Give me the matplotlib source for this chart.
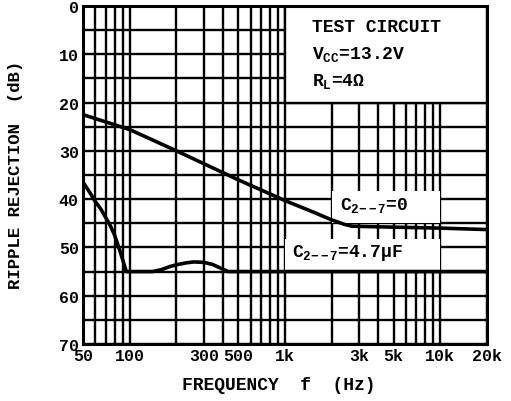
import numpy as np
import matplotlib
matplotlib.use("Agg")
import matplotlib.pyplot as plt
from matplotlib.patches import Rectangle
from matplotlib.ticker import FixedLocator, LogLocator, NullFormatter

# C2-7 = 0 curve
freq_c0 = [50, 100, 200, 500, 1000, 1500, 2000, 2400, 2700, 5000, 10000, 20000]
rr_c0 = [22.5, 25.6, 30.0, 36.0, 40.3, 42.6, 44.3, 45.2, 45.6, 45.8, 46.0, 46.3]

# C2-7 = 4.7uF curve
freq_c47 = [50, 55, 60, 65, 70, 75, 80, 85, 90, 95, 100, 140, 160, 180, 200,
            230, 260, 300, 340, 380, 430, 1000, 20000]
rr_c47 = [36.5, 38.5, 40.5, 42.0, 43.8, 45.5, 47.5, 50.0, 52.5, 55.0, 55.0,
          55.0, 54.6, 54.0, 53.6, 53.2, 53.0, 53.1, 53.5, 54.2, 55.0, 55.0, 55.0]

xtick_vals = [50, 100, 300, 500, 1000, 3000, 5000, 10000, 20000]
xtick_labels = ['50', '100', '300', '500', '1k', '3k', '5k', '10k', '20k']
ytick_vals = [0, 10, 20, 30, 40, 50, 60, 70]

FONT = 'Liberation Mono'
plt.rcParams['font.family'] = FONT
plt.rcParams['font.weight'] = 'bold'
plt.rcParams['mathtext.fontset'] = 'custom'
plt.rcParams['mathtext.rm'] = FONT + ':bold'
plt.rcParams['mathtext.it'] = FONT + ':bold'
plt.rcParams['mathtext.default'] = 'rm'

fig = plt.figure(figsize=(5.11, 4.02), dpi=100)
ax = fig.add_axes([0.1624, 0.1418, 0.7906, 0.8408])

ax.set_xscale('log')
ax.set_xlim(50, 20000)
ax.set_ylim(70, 0)

# grid: every 5 dB and every log sub-decade
ax.xaxis.set_major_locator(FixedLocator(xtick_vals))
ax.xaxis.set_minor_locator(LogLocator(base=10, subs=np.arange(1, 10)))
ax.xaxis.set_minor_formatter(NullFormatter())
ax.set_xticks(xtick_vals)
ax.set_xticklabels(xtick_labels)
ax.set_yticks(ytick_vals)
ax.set_yticks(np.arange(0, 71, 5), minor=True)
ax.tick_params(which='both', length=0, labelsize=12, pad=3)
ax.set_axisbelow(True)
ax.grid(True, which='both', color='black', linewidth=1.7)

for s in ax.spines.values():
    s.set_linewidth(2.2)

# white boxes behind the labels
ax.add_patch(Rectangle((1000, 0), 19000, 20, facecolor='white',
                       edgecolor='black', linewidth=1.7, zorder=1.5))
ax.add_patch(Rectangle((2000, 38.3), 8000, 6.7, facecolor='white',
                       edgecolor='none', zorder=1.5))
ax.add_patch(Rectangle((1000, 48.2), 9000, 6.8, facecolor='white',
                       edgecolor='none', zorder=1.5))

ax.plot(freq_c0, rr_c0, color='black', linewidth=2.6, zorder=3)
ax.plot(freq_c47, rr_c47, color='black', linewidth=2.6, zorder=3)

ax.text(1490, 4.3, 'TEST CIRCUIT', fontsize=13, va='center', zorder=4)
ax.text(1490, 9.9, r'V$_{\mathrm{CC}}$=13.2V', fontsize=13, va='center', zorder=4)
ax.text(1490, 15.5, r'R$_{\mathrm{L}}$=4$\Omega$', fontsize=13, va='center', zorder=4)
ax.text(2260, 41.2, r'C$_{2\!-\!-7}$=0', fontsize=13, va='center', zorder=4)
ax.text(1110, 51.0, r'C$_{2\!-\!-7}$=4.7$\mu$F', fontsize=13, va='center', zorder=4)

fig.text(0.03, 0.565, 'RIPPLE REJECTION  (dB)', rotation=90, fontsize=12.5,
         ha='center', va='center')
fig.text(0.545, 0.042, 'FREQUENCY  f  (Hz)', fontsize=13, ha='center', va='center')

fig.savefig('out.png', dpi=100)
